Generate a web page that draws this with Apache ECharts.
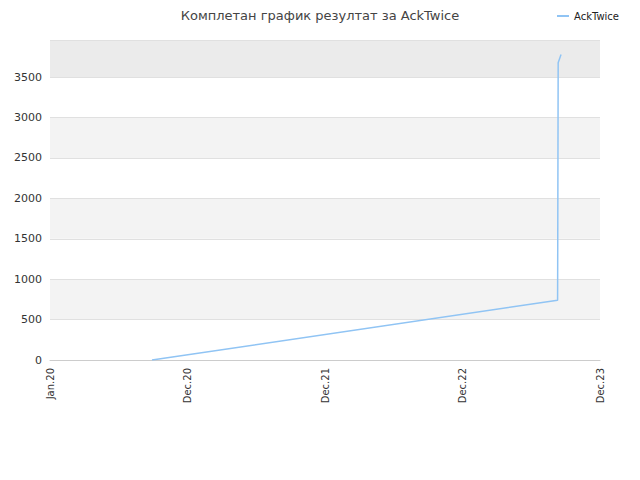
<!DOCTYPE html>
<html><head><meta charset="utf-8">
<script src="https://cdn.jsdelivr.net/npm/echarts@6/dist/echarts.min.js"></script>
<style>html,body{margin:0}#c{width:640px;height:480px}</style></head>
<body><div id="c"></div>
<script>
// x = months since Jan 2020
var tickLabels = {0: 'Jan.20', 12: 'Dec.20', 24: 'Dec.21', 36: 'Dec.22', 48: 'Dec.23'};
var seriesMonths = [8.9, 44.3, 44.35, 44.6];
var seriesValues = [0, 740, 3680, 3780];

var chart = echarts.init(document.getElementById('c'), null, { renderer: 'svg' });
chart.setOption({
    animation: false,
    title: {
        text: 'Комплетан график резултат за AckTwice',
        left: 'center', top: 4,
        textStyle: { fontSize: 13, fontWeight: 'normal', color: '#444', fontFamily: 'DejaVu Sans' }
    },
    legend: {
        right: 16, top: 6, itemWidth: 12, itemHeight: 2, itemGap: 4,
        icon: 'rect',
        textStyle: { fontSize: 10, color: '#222', fontFamily: 'DejaVu Sans' },
        data: ['AckTwice']
    },
    grid: { left: 50, right: 40, top: 40, bottom: 120 },
    xAxis: {
        type: 'value', min: 0, max: 48, interval: 12,
        axisLine: { lineStyle: { color: '#ccc' } },
        axisTick: { show: false },
        splitLine: { show: false },
        axisLabel: {
            rotate: 90, color: '#333', fontSize: 10, fontFamily: 'DejaVu Sans',
            formatter: function (v) { return tickLabels[v] || ''; }
        }
    },
    yAxis: {
        type: 'value', min: 0, max: 3960, interval: 500,
        axisLine: { show: false },
        axisTick: { show: false },
        axisLabel: { color: '#333', fontSize: 11, fontFamily: 'DejaVu Sans', showMaxLabel: false,
            formatter: function (v) { return String(v); } },
        splitLine: { lineStyle: { color: '#e0e0e0' } },
        splitArea: { show: true, areaStyle: { color: ['#ffffff', '#f3f3f3', '#ffffff', '#f3f3f3', '#ffffff', '#f3f3f3', '#ffffff', '#ebebeb'] } }
    },
    series: [{
        name: 'AckTwice', type: 'line', showSymbol: false,
        data: seriesMonths.map(function (m, i) { return [m, seriesValues[i]]; }),
        lineStyle: { color: '#90c4f4', width: 1.5 },
        itemStyle: { color: '#90c4f4' }
    }]
});
</script></body></html>
